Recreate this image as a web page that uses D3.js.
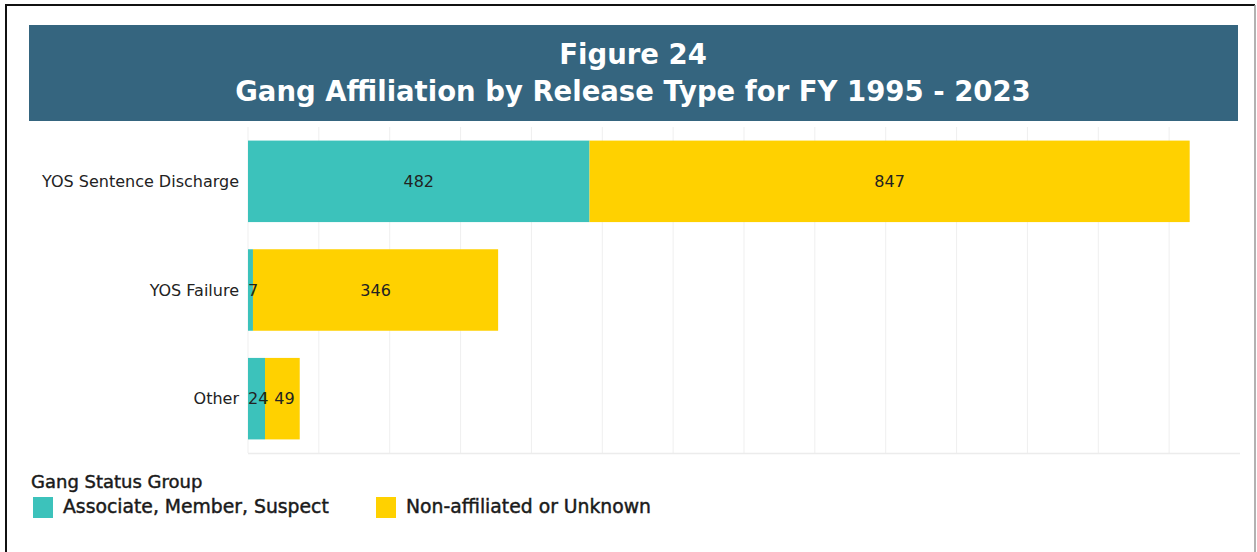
<!DOCTYPE html>
<html>
<head>
<meta charset="utf-8">
<title>Gang Affiliation by Release Type</title>
<script src="https://d3js.org/d3.v7.min.js"></script>
<style>
    body { margin: 0; background: #fff; }
    svg text { font-family: "DejaVu Sans", sans-serif; }
    .title { fill: #fff; font-weight: bold; font-size: 27.5px; }
    .cat { fill: #222; font-size: 16px; }
    .val { fill: #222; font-size: 16px; }
    .legend-title { fill: #1a1a1a; font-size: 18px; stroke: #1a1a1a; stroke-width: 0.45px; }
    .legend-item { fill: #1a1a1a; font-size: 18.8px; stroke: #1a1a1a; stroke-width: 0.45px; }
</style>
</head>
<body>
<div id="chart"></div>
<script>
// release types and counts per gang status group
const categories = ["YOS Sentence Discharge", "YOS Failure", "Other"];
const associateMemberSuspect = [482, 7, 24];
const nonAffiliatedUnknown = [847, 346, 49];
const seriesNames = ["Associate, Member, Suspect", "Non-affiliated or Unknown"];
const xTicks = [0, 100, 200, 300, 400, 500, 600, 700, 800, 900, 1000, 1100, 1200, 1300];

const W = 1257, H = 552;
const colors = ["#3cc2bb", "#ffd100"];

const svg = d3.select("#chart").append("svg")
    .attr("width", W)
    .attr("height", H);

// outer frame
svg.append("line").attr("x1", 5).attr("x2", 1255).attr("y1", 5).attr("y2", 5)
    .attr("stroke", "#111").attr("stroke-width", 2);
svg.append("line").attr("x1", 6).attr("x2", 6).attr("y1", 5).attr("y2", H)
    .attr("stroke", "#111").attr("stroke-width", 2);
svg.append("line").attr("x1", 1255).attr("x2", 1255).attr("y1", 5).attr("y2", H)
    .attr("stroke", "#999").attr("stroke-width", 1.5);

// title banner
svg.append("rect")
    .attr("x", 29).attr("y", 25)
    .attr("width", 1209).attr("height", 96)
    .attr("fill", "#35657f");
svg.append("text").attr("class", "title")
    .attr("x", 633).attr("y", 64)
    .attr("text-anchor", "middle")
    .text("Figure 24");
svg.append("text").attr("class", "title")
    .attr("x", 633).attr("y", 101)
    .attr("text-anchor", "middle")
    .text("Gang Affiliation by Release Type for FY 1995 - 2023");

// scales
const x = d3.scaleLinear().domain([0, 1400]).range([248, 1240]);
const y = d3.scaleBand().domain(categories).range([127, 453])
    .paddingInner(0.25).paddingOuter(0.125);

// gridlines
svg.append("g")
    .selectAll("line")
    .data(xTicks)
    .join("line")
    .attr("x1", d => x(d)).attr("x2", d => x(d))
    .attr("y1", 127).attr("y2", 453)
    .attr("stroke", "#efefef").attr("stroke-width", 1);

// baseline
svg.append("line")
    .attr("x1", x(0)).attr("x2", x(1400))
    .attr("y1", 453.5).attr("y2", 453.5)
    .attr("stroke", "#ececec").attr("stroke-width", 1.5);

// stack
const rows = categories.map((c, i) => ({
    cat: c,
    [seriesNames[0]]: associateMemberSuspect[i],
    [seriesNames[1]]: nonAffiliatedUnknown[i]
}));
const stacked = d3.stack().keys(seriesNames)(rows);

const layers = svg.append("g").selectAll("g")
    .data(stacked)
    .join("g")
    .attr("fill", (d, i) => colors[i]);

layers.selectAll("rect")
    .data(d => d)
    .join("rect")
    .attr("x", d => x(d[0]))
    .attr("width", d => x(d[1]) - x(d[0]))
    .attr("y", d => y(d.data.cat))
    .attr("height", y.bandwidth());

// category labels
svg.append("g")
    .selectAll("text")
    .data(categories)
    .join("text")
    .attr("class", "cat")
    .attr("x", x(0) - 9)
    .attr("y", d => y(d) + y.bandwidth() / 2)
    .attr("dy", "0.35em")
    .attr("text-anchor", "end")
    .text(d => d);

// value labels, centred in segments, nudged right if they collide
const labelG = svg.append("g");
categories.forEach((c, ci) => {
    let prevEnd = -Infinity;
    stacked.forEach(layer => {
        const d = layer[ci];
        const t = labelG.append("text")
            .attr("class", "val")
            .attr("y", y(c) + y.bandwidth() / 2)
            .attr("dy", "0.35em")
            .attr("text-anchor", "middle")
            .text(d[1] - d[0]);
        const w = t.node().getComputedTextLength();
        let cx = (x(d[0]) + x(d[1])) / 2;
        if (cx - w / 2 < x(0)) cx = x(0) + w / 2;
        if (cx - w / 2 < prevEnd + 6) cx = prevEnd + 6 + w / 2;
        t.attr("x", cx);
        prevEnd = cx + w / 2;
    });
});

// legend
svg.append("text").attr("class", "legend-title")
    .attr("x", 31).attr("y", 488)
    .text("Gang Status Group");
const legendX = [33, 376];
seriesNames.forEach((s, i) => {
    svg.append("rect")
        .attr("x", legendX[i]).attr("y", 497)
        .attr("width", 20).attr("height", 21)
        .attr("fill", colors[i]);
    svg.append("text").attr("class", "legend-item")
        .attr("x", legendX[i] + 30).attr("y", 513)
        .text(s);
});
</script>
</body>
</html>
